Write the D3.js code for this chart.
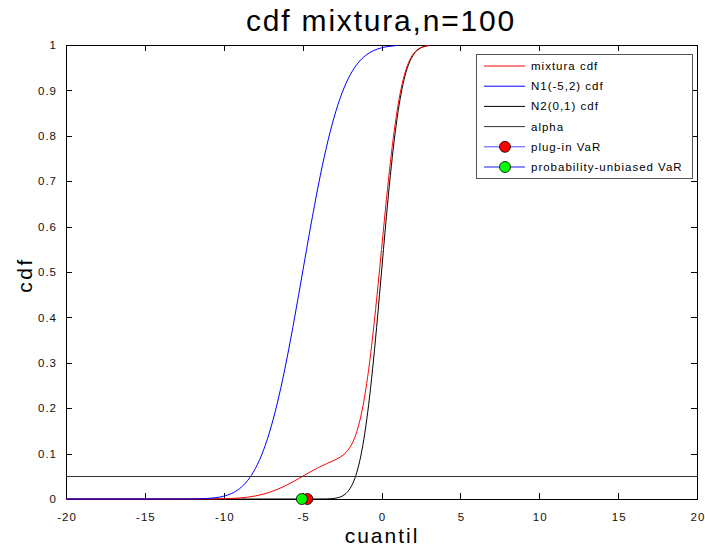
<!DOCTYPE html>
<html><head><meta charset="utf-8">
<script src="https://cdn.jsdelivr.net/npm/d3@7"></script>
<style>body{margin:0;background:#fff}svg{display:block}text{font-family:Arial,"Liberation Sans",sans-serif}</style>
</head><body><svg id="c" width="705" height="550"></svg>
<script>
const xs = [-20,-14,-13,-12,-11.5,-11,-10.5,-10,-9.5,-9,-8.5,-8,-7.5,-7,-6.5,-6,-5.5,-5,-4.5,-4,-3.5,-3,-2.75,-2.5,-2.25,-2,-1.75,-1.5,-1.25,-1,-0.75,-0.5,-0.25,0,0.25,0.5,0.75,1,1.25,1.5,1.75,2,2.25,2.5,2.75,3];
const mixturaCdf = [0,0,0.000003,0.00002,0.00006,0.00013,0.0003,0.0006,0.0012,0.0023,0.0040,0.0067,0.0106,0.0159,0.0227,0.0309,0.0401,0.0500,0.0599,0.0692,0.0775,0.0853,0.0897,0.0950,0.1025,0.1138,0.1309,0.1561,0.1920,0.2405,0.3022,0.3765,0.4603,0.5494,0.6384,0.7221,0.7959,0.8571,0.9049,0.9398,0.9639,0.9795,0.9890,0.9944,0.9973,0.9988];
const n1Cdf = [0,0,0.00003,0.0002,0.0006,0.0013,0.0030,0.0062,0.0122,0.0228,0.0401,0.0668,0.1056,0.1587,0.2266,0.3085,0.4013,0.5,0.5987,0.6915,0.7734,0.8413,0.8697,0.8944,0.9154,0.9332,0.9479,0.9599,0.9696,0.9772,0.9832,0.9878,0.9912,0.9938,0.9957,0.9970,0.9980,0.9990];
const n2Cdf = [0,0,0,0,0,0,0,0,0,0,0,0,0,0,0,0,0,0,0,0.00003,0.0002,0.0013,0.0030,0.0062,0.0122,0.0228,0.0401,0.0668,0.1056,0.1587,0.2266,0.3085,0.4013,0.5,0.5987,0.6915,0.7734,0.8413,0.8944,0.9332,0.9599,0.9772,0.9878,0.9938,0.9970,0.9990];
const alpha = 0.05;
const plugInVaR = -4.7;
const unbiasedVaR = -5.05;
const xTicks = [-20,-15,-10,-5,0,5,10,15,20];
const yTicks = [0,0.1,0.2,0.3,0.4,0.5,0.6,0.7,0.8,0.9,1];
const xTickLabels = ["-20","-15","-10","-5","0","5","10","15","20"];
const yTickLabels = ["0","0.1","0.2","0.3","0.4","0.5","0.6","0.7","0.8","0.9","1"];
const legendLabels = ["mixtura cdf","N1(-5,2) cdf","N2(0,1) cdf","alpha","plug-in VaR","probability-unbiased VaR"];

const svg = d3.select("#c");
const L=66,R=697,T=45,B=499;
const x = d3.scaleLinear().domain([-20,20]).range([L,R]);
const y = d3.scaleLinear().domain([0,1]).range([B,T]);
const fs = "11.5px", ls = "1px";

svg.append("rect").attr("x",L).attr("y",T).attr("width",R-L).attr("height",B-T).attr("fill","#fff").attr("stroke","#000").attr("stroke-width",1).attr("shape-rendering","crispEdges");

const tl = 6;
const gx = svg.append("g").attr("transform",`translate(0,${B})`).call(d3.axisBottom(x).tickValues(xTicks).tickSize(-tl).tickPadding(tl+8).tickFormat((d,i)=>xTickLabels[i]));
const gxt = svg.append("g").attr("transform",`translate(0,${T})`).call(d3.axisTop(x).tickValues(xTicks).tickSize(-tl).tickFormat(""));
const gy = svg.append("g").attr("transform",`translate(${L},0)`).call(d3.axisLeft(y).tickValues(yTicks).tickSize(-tl).tickPadding(tl+3).tickFormat((d,i)=>yTickLabels[i]));
const gyr = svg.append("g").attr("transform",`translate(${R},0)`).call(d3.axisRight(y).tickValues(yTicks).tickSize(-tl).tickFormat(""));
[gx,gxt,gy,gyr].forEach(g=>{g.select(".domain").remove();g.selectAll("line").attr("stroke","#000").attr("shape-rendering","crispEdges");g.selectAll("text").attr("fill","#111").style("font-size",fs).style("letter-spacing",ls).style("font-family","Arial");});
gx.selectAll("text").attr("dx","0.5px");

const line = (ys)=>d3.line().x((d,i)=>x(xs[i])).y(d=>y(d)).curve(d3.curveMonotoneX)(ys);
svg.append("path").attr("d",line(n2Cdf)).attr("fill","none").attr("stroke","#000").attr("stroke-width",1);
svg.append("path").attr("d",line(mixturaCdf)).attr("fill","none").attr("stroke","#ff0000").attr("stroke-width",1);
svg.append("path").attr("d",line(n1Cdf)).attr("fill","none").attr("stroke","#0000ff").attr("stroke-width",1);
svg.append("line").attr("x1",x(-20)).attr("x2",x(20)).attr("y1",y(alpha)).attr("y2",y(alpha)).attr("stroke","#333").attr("stroke-width",1).attr("shape-rendering","crispEdges");
svg.append("circle").attr("cx",x(plugInVaR)).attr("cy",y(0)).attr("r",5.5).attr("fill","#ff0000").attr("stroke","#000").attr("stroke-width",0.8);
svg.append("circle").attr("cx",x(unbiasedVaR)).attr("cy",y(0)).attr("r",5.5).attr("fill","#00ff00").attr("stroke","#000").attr("stroke-width",0.8);

svg.append("text").attr("x",381).attr("y",31).attr("text-anchor","middle").style("font-size","30px").style("letter-spacing","1.8px").text("cdf mixtura,n=100");
svg.append("text").attr("x",382).attr("y",543).attr("text-anchor","middle").style("font-size","21px").style("letter-spacing","2px").text("cuantil");
svg.append("text").attr("transform","translate(32,275) rotate(-90)").attr("text-anchor","middle").style("font-size","21px").style("letter-spacing","2.5px").text("cdf");

const lg = svg.append("g");
lg.append("rect").attr("x",476).attr("y",54).attr("width",216).attr("height",124).attr("fill","#fff").attr("stroke","#555").attr("stroke-width",1).attr("shape-rendering","crispEdges");
const lcol = ["#ff0000","#0000ff","#000","#333","#4d4dff","#1a1aff"];
const mk = [null,null,null,null,"#ff0000","#00ff00"];
legendLabels.forEach((t,i)=>{
  const yy = 66 + i*20.2;
  lg.append("line").attr("x1",484).attr("x2",525).attr("y1",yy).attr("y2",yy).attr("stroke",lcol[i]).attr("stroke-width",1);
  if(mk[i]) lg.append("circle").attr("cx",505).attr("cy",yy).attr("r",5.5).attr("fill",mk[i]).attr("stroke","#000").attr("stroke-width",0.8);
  lg.append("text").attr("x",531).attr("y",yy).attr("dy","0.35em").style("font-size",fs).style("letter-spacing",ls).text(t);
});
</script></body></html>
